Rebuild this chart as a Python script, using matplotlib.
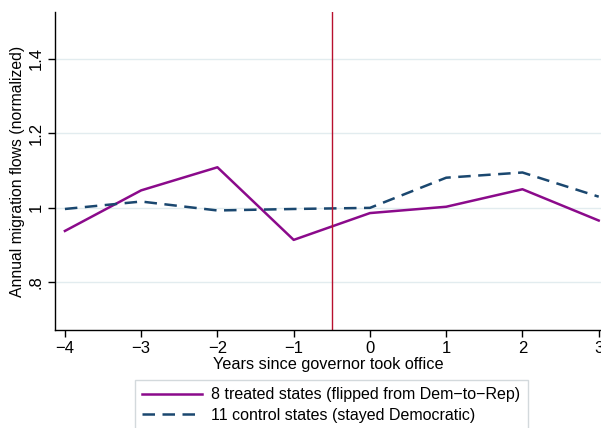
import matplotlib
matplotlib.use("Agg")
import matplotlib.pyplot as plt

years = [-4, -3, -2, -1, 0, 1, 2, 3]
treated = [0.938, 1.047, 1.109, 0.914, 0.986, 1.003, 1.050, 0.966]
control = [0.997, 1.017, 0.993, 0.997, 1.000, 1.081, 1.095, 1.030]
yticks = [0.8, 1.0, 1.2, 1.4]
ytick_labels = [".8", "1", "1.2", "1.4"]
labels = ["8 treated states (flipped from Dem\u2212to\u2212Rep)",
          "11 control states (stayed Democratic)"]

plt.rcParams['font.family'] = ['Liberation Sans', 'DejaVu Sans']

fig = plt.figure(figsize=(6.01, 4.28), dpi=100)
ax = fig.add_axes([55/601, 1-330/428, 546/601, 318/428])

ax.plot(years, treated, color='#8b0a8b', lw=1.8, label=labels[0])
ax.plot(years, control, color='#1a476f', lw=1.8, ls=(0, (5, 3)), label=labels[1])
ax.axvline(-0.5, color='#b8102e', lw=1.0)

ax.set_xlim(-4.13, 3.03)
ax.set_ylim(0.672, 1.526)
ax.set_yticks(yticks)
ax.set_yticklabels(ytick_labels, rotation=90, va='center')
ax.set_xticks(years)
ax.set_xticklabels([str(y).replace('-', '\u2212') for y in years])
ax.grid(axis='y', color='#e2ecef', lw=1)
ax.set_axisbelow(True)
for s in ['top', 'right']:
    ax.spines[s].set_visible(False)
ax.spines['left'].set_linewidth(1.0)
ax.spines['bottom'].set_linewidth(1.0)
ax.tick_params(labelsize=12, length=5, width=1, pad=3)
ax.set_xlabel("Years since governor took office", fontsize=11.7, labelpad=1)
ax.set_ylabel("Annual migration flows (normalized)", fontsize=11.3, labelpad=3)

leg = fig.legend(loc='upper center', bbox_to_anchor=(0.551, 1-380/428), ncol=1,
                 fontsize=11.5, frameon=True, fancybox=False, edgecolor='#c8d0d4',
                 handlelength=3.75, handletextpad=0.6, borderpad=0.45,
                 labelspacing=0.35, borderaxespad=0)
leg.get_frame().set_linewidth(1.0)

fig.savefig("out.png", dpi=100)
